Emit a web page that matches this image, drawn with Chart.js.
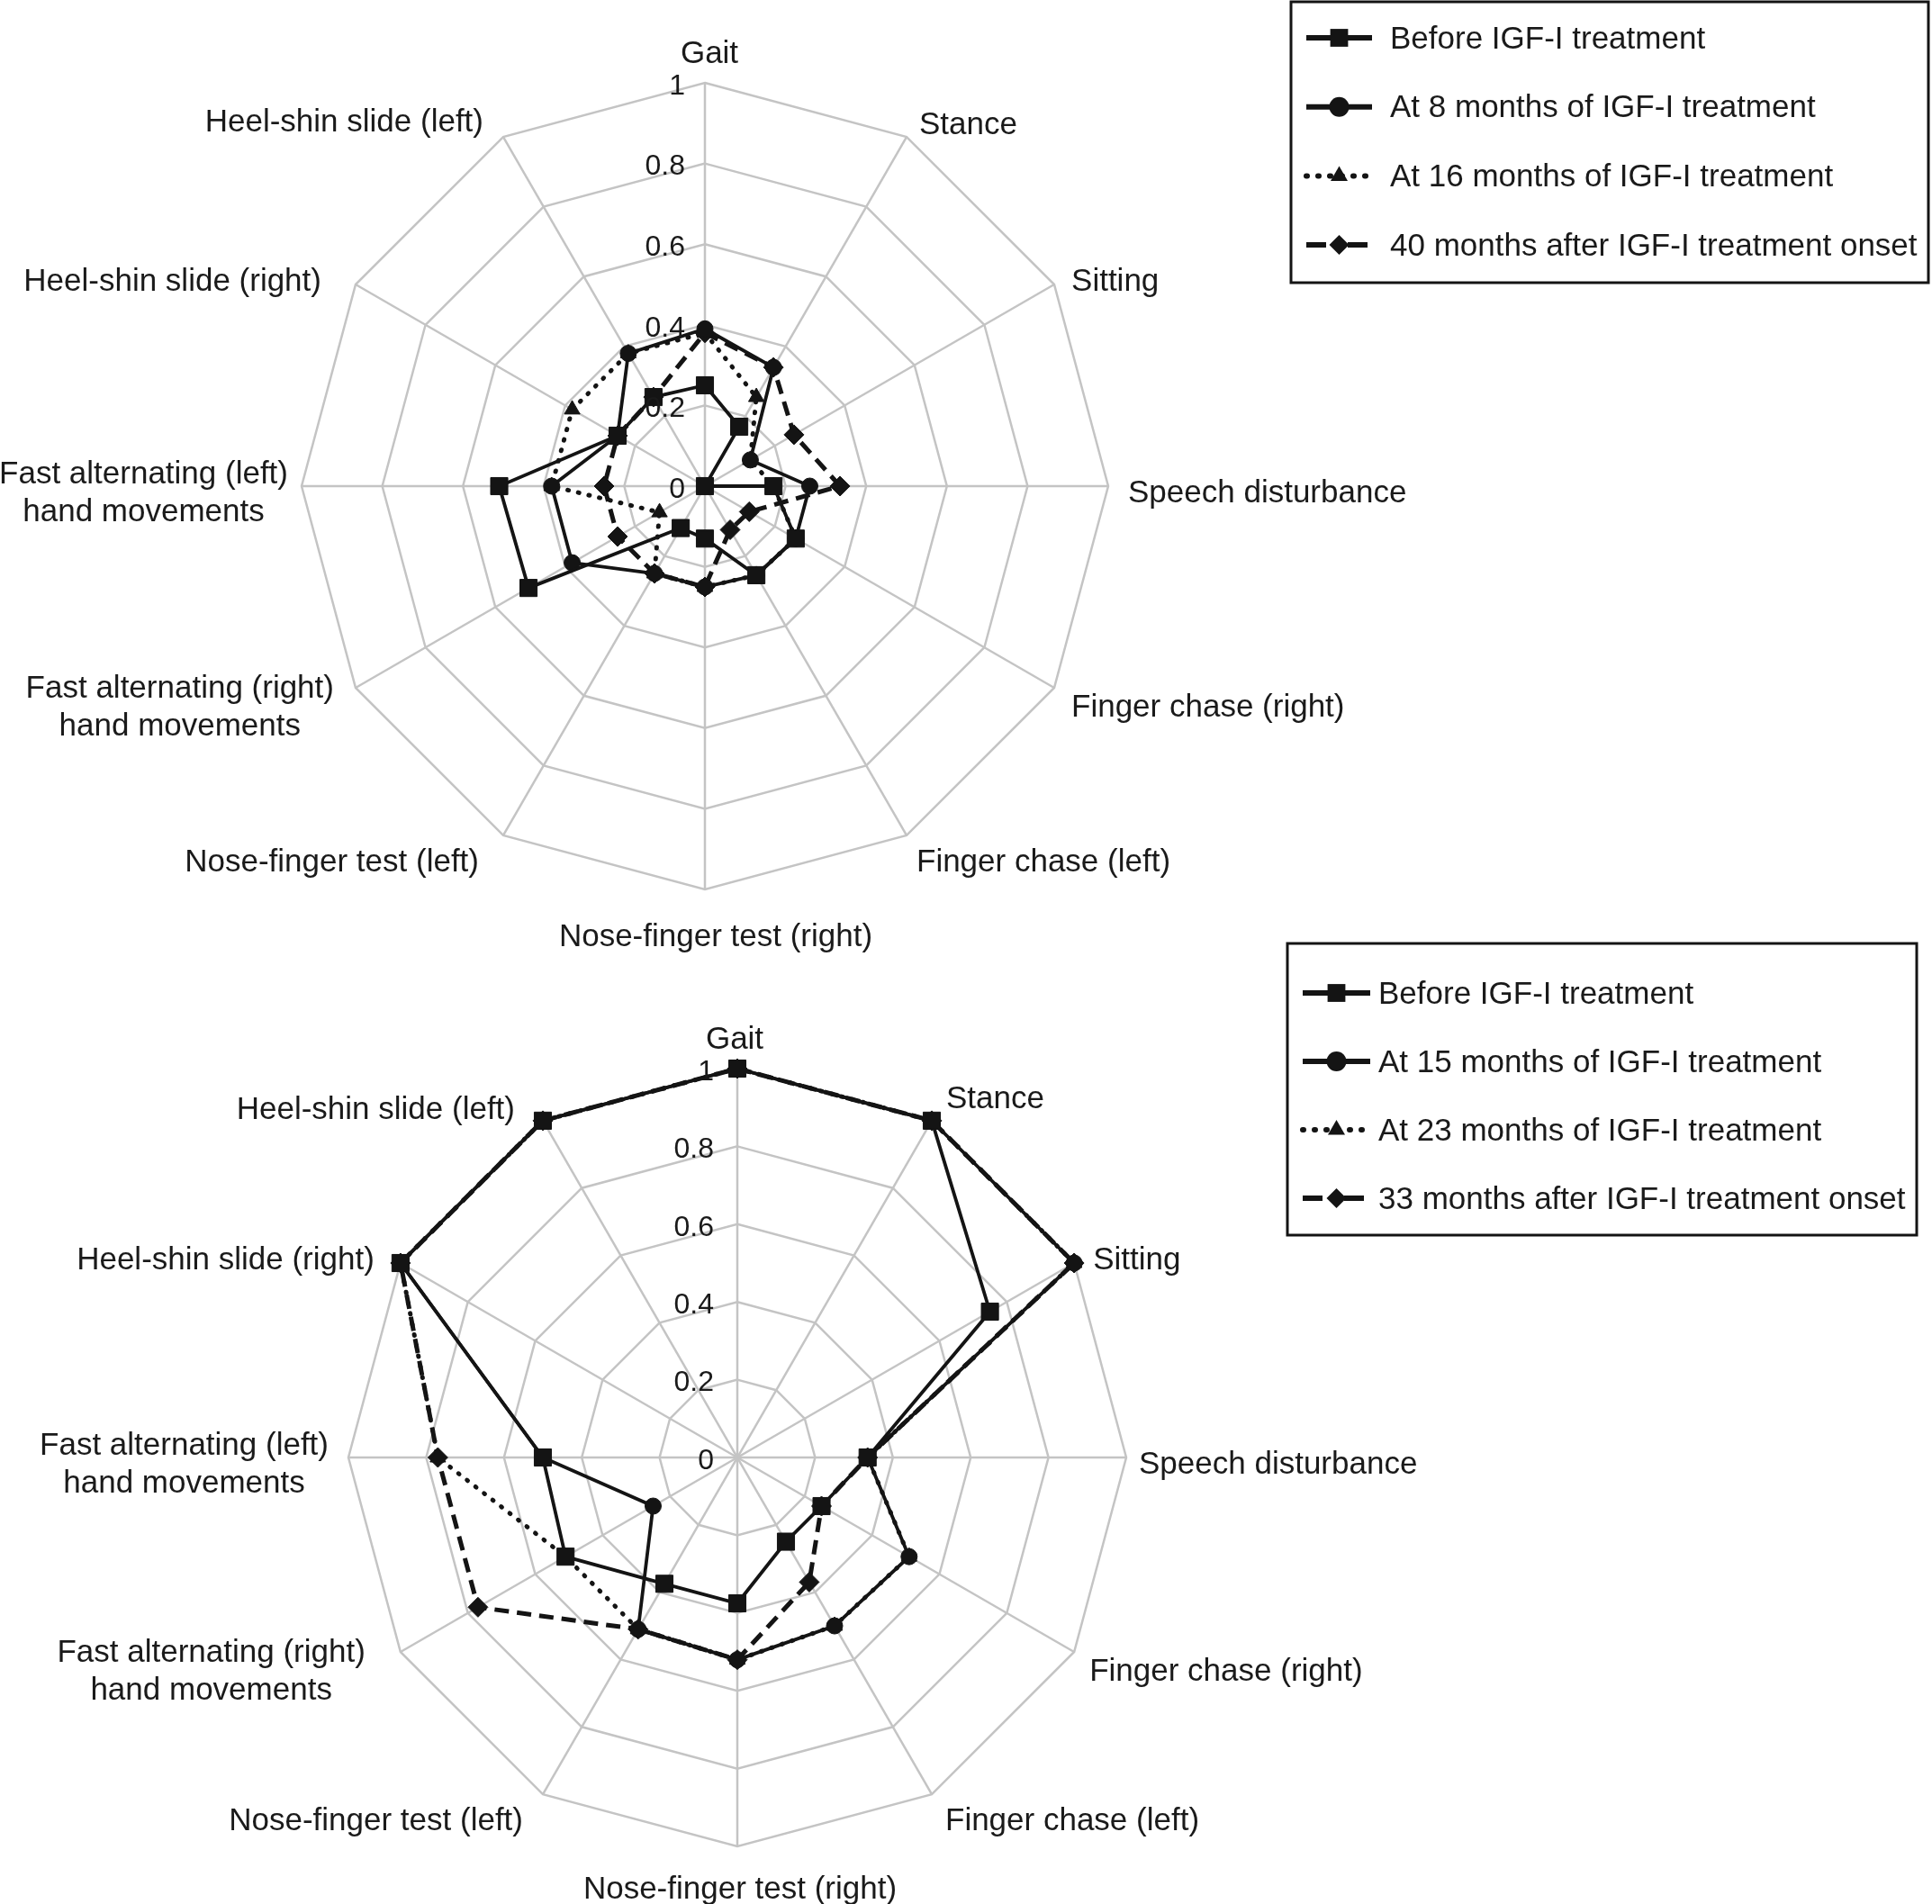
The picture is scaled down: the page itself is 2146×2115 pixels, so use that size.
<!DOCTYPE html>
<html>
<head>
<meta charset="utf-8">
<script src="https://cdn.jsdelivr.net/npm/chart.js@4.4.1/dist/chart.umd.min.js"></script>
<style>
    html, body { margin: 0; padding: 0; background: #fff; }
    body { width: 2146px; height: 2115px; position: relative; overflow: hidden; }
    .caja { position: absolute; left: 0; width: 2146px; }
    #arriba { top: 0; height: 1080px; }
    #abajo { top: 1040px; height: 1075px; }
    canvas { display: block; }
</style>
</head>
<body>
<div class="caja" id="arriba"><canvas id="grafica1" width="2146" height="1080"></canvas></div>
<div class="caja" id="abajo"><canvas id="grafica2" width="2146" height="1075"></canvas></div>
<script>
// categorias (ejes del radar), en el orden de las agujas del reloj desde arriba
const categorias = [
    ['Gait'],
    ['Stance'],
    ['Sitting'],
    ['Speech disturbance'],
    ['Finger chase (right)'],
    ['Finger chase (left)'],
    ['Nose-finger test (right)'],
    ['Nose-finger test (left)'],
    ['Fast alternating (right)', 'hand movements'],
    ['Fast alternating (left)', 'hand movements'],
    ['Heel-shin slide (right)'],
    ['Heel-shin slide (left)']
];
const valoresTicks = [0, 0.2, 0.4, 0.6, 0.8, 1];
const textosTicks = ['0', '0.2', '0.4', '0.6', '0.8', '1'];

// grafica de arriba
const leyendaArriba = [
    'Before IGF-I treatment',
    'At 8 months of IGF-I treatment',
    'At 16 months of IGF-I treatment',
    '40 months after IGF-I treatment onset'
];
const arribaAntes = [0.25, 0.17, 0, 0.17, 0.26, 0.255, 0.13, 0.12, 0.505, 0.51, 0.25, 0.255];
const arriba8m = [0.39, 0.34, 0.13, 0.26, 0.26, 0.255, 0.25, 0.25, 0.38, 0.38, 0.25, 0.38];
const arriba16m = [0.38, 0.255, 0.13, 0.17, 0.26, 0.255, 0.25, 0.25, 0.13, 0.38, 0.38, 0.38];
const arriba40m = [0.38, 0.34, 0.255, 0.335, 0.127, 0.125, 0.25, 0.25, 0.25, 0.25, 0.25, 0.255];

// grafica de abajo
const leyendaAbajo = [
    'Before IGF-I treatment',
    'At 15 months of IGF-I treatment',
    'At 23 months of IGF-I treatment',
    '33 months after IGF-I treatment onset'
];
const abajoAntes = [1, 1, 0.75, 0.335, 0.25, 0.25, 0.375, 0.375, 0.51, 0.5, 1, 1];
const abajo15m = [1, 1, 1, 0.335, 0.51, 0.5, 0.52, 0.51, 0.25, 0.5, 1, 1];
const abajo23m = [1, 1, 1, 0.335, 0.51, 0.5, 0.52, 0.51, 0.51, 0.77, 1, 1];
const abajo33m = [1, 1, 1, 0.335, 0.25, 0.37, 0.52, 0.51, 0.77, 0.77, 1, 1];

const NEGRO = '#141414';
const FUENTE = '"Liberation Sans", Arial, Helvetica, sans-serif';

// estilos de las cuatro series (linea + marcador)
const estilos = [
    { pointStyle: 'rect', pointRadius: 13.5, borderWidth: 3.8, borderDash: [], cap: 'butt' },
    { pointStyle: 'circle', pointRadius: 9, borderWidth: 3.8, borderDash: [], cap: 'butt' },
    { pointStyle: 'triangle', pointRadius: 10, borderWidth: 5, borderDash: [1, 11], cap: 'round' },
    { pointStyle: 'rectRot', pointRadius: 11, borderWidth: 5, borderDash: [16, 9], cap: 'butt' }
];

function hazDatasets(series, nombres) {
    let ds = [];
    for (let i = 0; i < series.length; i++) {
        ds.push({
            label: nombres[i],
            data: series[i],
            fill: false,
            borderColor: NEGRO,
            backgroundColor: 'transparent',
            borderWidth: estilos[i].borderWidth,
            borderDash: estilos[i].borderDash,
            borderCapStyle: estilos[i].cap,
            pointStyle: estilos[i].pointStyle,
            pointRadius: estilos[i].pointRadius,
            pointBackgroundColor: NEGRO,
            pointBorderColor: NEGRO,
            pointBorderWidth: 1,
            tension: 0
        });
    }
    return ds;
}

function marcador(ctx, estilo, x, y, r) {
    ctx.save();
    ctx.setLineDash([]);
    ctx.fillStyle = NEGRO;
    ctx.beginPath();
    if (estilo == 'rect') {
        let s = r * Math.SQRT1_2;
        ctx.rect(x - s, y - s, 2 * s, 2 * s);
    } else if (estilo == 'circle') {
        ctx.arc(x, y, r, 0, Math.PI * 2);
    } else if (estilo == 'triangle') {
        ctx.moveTo(x, y - r);
        ctx.lineTo(x + r * 0.866, y + r * 0.5);
        ctx.lineTo(x - r * 0.866, y + r * 0.5);
        ctx.closePath();
    } else {
        ctx.moveTo(x, y - r);
        ctx.lineTo(x + r, y);
        ctx.lineTo(x, y + r);
        ctx.lineTo(x - r, y);
        ctx.closePath();
    }
    ctx.fill();
    ctx.restore();
}

// plugin que pone etiquetas de ejes, ticks y la leyenda con caja
function pluginTextos(cfg) {
    return {
        id: 'textos',
        afterDatasetsDraw(chart) {
            const ctx = chart.ctx;
            const r = chart.scales.r;
            ctx.save();
            ctx.fillStyle = '#1a1a1a';

            // etiquetas de los ejes
            ctx.font = '35px ' + FUENTE;
            for (let i = 0; i < categorias.length; i++) {
                const ang = i * Math.PI / 6;
                const sin = Math.sin(ang), cos = Math.cos(ang);
                let pad = 22;
                if (cos < -0.99) pad = 32;
                const p = r.getPointPosition(i, r.drawingArea + pad);
                const lineas = categorias[i];
                let ancho = 0;
                for (let l of lineas) ancho = Math.max(ancho, ctx.measureText(l).width);
                let cx = p.x + cfg.dx[i];
                if (sin > 0.01) cx += ancho / 2;
                if (sin < -0.01) cx -= ancho / 2;
                const alto = 42;
                let cy = p.y;
                if (cos > 0.99) cy = p.y - 10;
                else if (cos < -0.99) cy = p.y + 21;
                else if (cos < -0.1) cy = p.y + 11;
                else cy = p.y + 8;
                cy += cfg.dy[i];
                ctx.textAlign = 'center';
                ctx.textBaseline = 'middle';
                for (let k = 0; k < lineas.length; k++) {
                    const yy = cy + (k - (lineas.length - 1) / 2) * alto;
                    ctx.fillText(lineas[k], cx, yy);
                }
            }

            // ticks del eje radial, a la izquierda del eje vertical
            ctx.font = '32px ' + FUENTE;
            ctx.textAlign = 'right';
            ctx.textBaseline = 'middle';
            for (let i = 0; i < valoresTicks.length; i++) {
                const d = r.getDistanceFromCenterForValue(valoresTicks[i]);
                ctx.fillText(textosTicks[i], r.xCenter - cfg.tickGap, r.yCenter - d + 4);
            }

            // leyenda
            const L = cfg.leyenda;
            ctx.lineWidth = 3;
            ctx.strokeStyle = NEGRO;
            ctx.strokeRect(L.x, L.y, L.w, L.h);
            ctx.font = '35px ' + FUENTE;
            ctx.textAlign = 'left';
            for (let i = 0; i < chart.data.datasets.length; i++) {
                const ds = chart.data.datasets[i];
                const y = L.fila0 + i * L.paso;
                ctx.save();
                ctx.lineWidth = 6;
                ctx.lineCap = estilos[i].cap;
                ctx.setLineDash(i == 2 ? [1, 12] : (i == 3 ? [22, 24] : []));
                ctx.beginPath();
                ctx.moveTo(L.lx1, y);
                ctx.lineTo(L.lx2, y);
                ctx.stroke();
                ctx.restore();
                marcador(ctx, ds.pointStyle, (L.lx1 + L.lx2) / 2, y, ds.pointStyle == 'rect' ? 14 : 11);
                ctx.fillText(ds.label, L.tx, y + 2);
            }
            ctx.restore();
        }
    };
}

function dibujaRadar(idCanvas, series, nombres, padding, cfg) {
    const ctx = document.getElementById(idCanvas);
    new Chart(ctx, {
        type: 'radar',
        data: {
            labels: categorias.map(c => c.join(' ')),
            datasets: hazDatasets(series, nombres)
        },
        options: {
            responsive: false,
            animation: false,
            devicePixelRatio: 1,
            layout: { padding: padding },
            plugins: {
                legend: { display: false },
                tooltip: { enabled: false }
            },
            scales: {
                r: {
                    min: 0,
                    max: 1,
                    ticks: { display: false, stepSize: 0.2 },
                    pointLabels: { display: false },
                    grid: { color: '#c4c4c4', lineWidth: 2.5 },
                    angleLines: { color: '#c4c4c4', lineWidth: 2.5 }
                }
            }
        },
        plugins: [pluginTextos(cfg)]
    });
}

window.onload = function () {
    dibujaRadar('grafica1',
        [arribaAntes, arriba8m, arriba16m, arriba40m], leyendaArriba,
        { left: 335, right: 915, top: 92, bottom: 92 },
        {
            tickGap: 22,
            dx: [5, 3, 0, 0, 0, 0, 12, -16, -5, 7, -19, -11],
            dy: [0, -2, 0, 0, 0, 0, 0, 0, 0, 0, 0, -5],
            leyenda: { x: 1434, y: 2, w: 708, h: 312, fila0: 42, paso: 76.7, lx1: 1451, lx2: 1524, tx: 1544 }
        });
    dibujaRadar('grafica2',
        [abajoAntes, abajo15m, abajo23m, abajo33m], leyendaAbajo,
        { left: 387, right: 895, top: 147, bottom: 64 },
        {
            tickGap: 26,
            dx: [-3, 5, 2, -8, -2, 4, 3, -11, -20, 0, -10, -20],
            dy: [0, -12, 0, 0, 0, 0, -5, 0, 0, 0, 0, 0],
            leyenda: { x: 1430, y: 8, w: 699, h: 324, fila0: 63, paso: 76, lx1: 1447, lx2: 1522, tx: 1531 }
        });
};
</script>
</body>
</html>
